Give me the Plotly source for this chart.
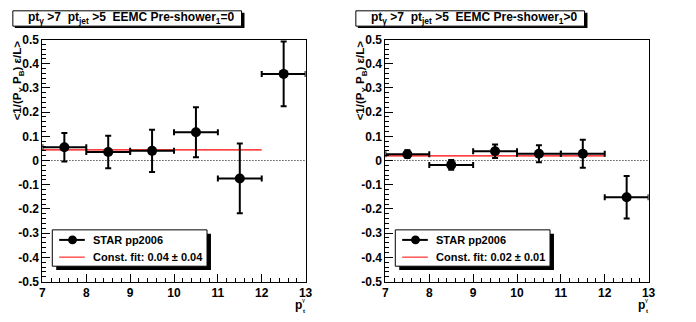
import plotly.graph_objects as go

# ---------------- data ----------------
bin_centers = [7.5, 8.5, 9.5, 10.5, 11.5, 12.5]
bin_halfwidth = [0.5, 0.5, 0.5, 0.5, 0.5, 0.5]

left_values = [0.055, 0.035, 0.040, 0.117, -0.074, 0.358]
left_errors = [0.059, 0.067, 0.087, 0.103, 0.144, 0.134]
left_fit_x = [7, 12]
left_fit_value = 0.044

right_values = [0.026, -0.018, 0.038, 0.028, 0.028, -0.152]
right_errors = [0.016, 0.020, 0.028, 0.035, 0.058, 0.088]
right_fit_x = [7, 12]
right_fit_value = 0.019

titles = ["pt<sub>γ</sub> >7  pt<sub>jet</sub> >5  EEMC Pre-shower<sub>1</sub>=0",
          "pt<sub>γ</sub> >7  pt<sub>jet</sub> >5  EEMC Pre-shower<sub>1</sub>>0"]
legend_data = "STAR pp2006"
legend_fit = ["Const. fit: 0.04 ± 0.04", "Const. fit: 0.02 ± 0.01"]

x_ticks = [7, 8, 9, 10, 11, 12, 13]
x_tick_labels = ["7", "8", "9", "10", "11", "12", "13"]
y_ticks = [-0.5, -0.4, -0.3, -0.2, -0.1, 0, 0.1, 0.2, 0.3, 0.4, 0.5]
y_tick_labels = ["-0.5", "-0.4", "-0.3", "-0.2", "-0.1", "0", "0.1", "0.2", "0.3", "0.4", "0.5"]
y_title = "<1/(P<sub>Y</sub> P<sub>B</sub>) ε/L>"

# ---------------- layout helpers ----------------
W, H = 696, 322
def px(x):
    return x / W
def py(y):
    return 1 - y / H

FONT = "Liberation Sans, Arial, sans-serif"
panel_left = [40, 388]
panel_w = 267
top_px, bot_px = 34, 287

fig = go.Figure()

panels = [
    (left_values, left_errors, left_fit_x, left_fit_value, "x", "y"),
    (right_values, right_errors, right_fit_x, right_fit_value, "x2", "y2"),
]

for vals, errs, fx, fval, xa, ya in panels:
    fig.add_trace(go.Scatter(
        x=fx, y=[fval, fval], mode="lines", xaxis=xa, yaxis=ya,
        line=dict(color="red", width=1.3), showlegend=False, hoverinfo="skip"))
    fig.add_trace(go.Scatter(
        x=bin_centers, y=vals, mode="markers", xaxis=xa, yaxis=ya,
        marker=dict(symbol="circle", size=10, color="black"),
        error_y=dict(type="data", array=errs, visible=True, color="black", thickness=2, width=3),
        error_x=dict(type="data", array=bin_halfwidth, visible=True, color="black", thickness=2, width=3),
        showlegend=False, hoverinfo="skip"))

axis_common = dict(
    showgrid=False, zeroline=False, showline=True, linecolor="black", linewidth=1,
    mirror=True, ticks="inside", tickcolor="black", ticklen=8, tickwidth=1,
    tickfont=dict(family=FONT, size=12, color="black", weight="bold"),
)

layout = dict(width=W, height=H, margin=dict(l=0, r=0, t=0, b=0),
              paper_bgcolor="white", plot_bgcolor="white", showlegend=False)

for i, (xa, ya) in enumerate([("xaxis", "yaxis"), ("xaxis2", "yaxis2")]):
    x0 = panel_left[i]
    xd = [px(x0), px(x0 + panel_w)]
    yd = [py(bot_px), py(top_px)]
    anchor_y = "y" if i == 0 else "y2"
    anchor_x = "x" if i == 0 else "x2"
    layout[xa] = dict(axis_common, domain=xd, range=[7, 13], anchor=anchor_y,
                      tickmode="array", tickvals=x_ticks, ticktext=x_tick_labels,
                      minor=dict(ticks="inside", ticklen=4, tickcolor="black", dtick=0.2, showgrid=False))
    layout[ya] = dict(axis_common, domain=yd, range=[-0.5, 0.5], anchor=anchor_x,
                      tickmode="array", tickvals=y_ticks, ticktext=y_tick_labels,
                      minor=dict(ticks="inside", ticklen=4, tickcolor="black", dtick=0.02, showgrid=False))

fig.update_layout(**layout)

shapes = []
annotations = []
for i in range(2):
    off = 348 * i
    xref = "x" if i == 0 else "x2"
    yref = "y" if i == 0 else "y2"
    # dotted zero line
    shapes.append(dict(type="line", xref=xref, yref=yref, x0=7, x1=13, y0=0, y1=0,
                       line=dict(color="black", width=1, dash="1px,2px"), layer="below"))
    # title box with shadow
    shapes.append(dict(type="rect", xref="paper", yref="paper",
                       x0=px(off + 12), x1=px(off + 245), y0=py(22), y1=py(6),
                       fillcolor="black", line=dict(width=0)))
    shapes.append(dict(type="rect", xref="paper", yref="paper",
                       x0=px(off + 10), x1=px(off + 242), y0=py(20), y1=py(4),
                       fillcolor="white", line=dict(color="black", width=1)))
    annotations.append(dict(xref="paper", yref="paper", x=px(off + 23), y=py(12),
                            xanchor="left", yanchor="middle", showarrow=False,
                            text=titles[i],
                            font=dict(family=FONT, size=12, color="black", weight="bold")))
    # legend box with shadow
    shapes.append(dict(type="rect", xref="paper", yref="paper",
                       x0=px(off + 54), x1=px(off + 211), y0=py(275), y1=py(237),
                       fillcolor="black", line=dict(width=0)))
    shapes.append(dict(type="rect", xref="paper", yref="paper",
                       x0=px(off + 50), x1=px(off + 207), y0=py(271), y1=py(233),
                       fillcolor="white", line=dict(color="black", width=1)))
    # legend entry 1: marker + line
    shapes.append(dict(type="line", xref="paper", yref="paper",
                       x0=px(off + 57), x1=px(off + 83), y0=py(243.5), y1=py(243.5),
                       line=dict(color="black", width=2)))
    shapes.append(dict(type="circle", xref="paper", yref="paper",
                       x0=px(off + 66), x1=px(off + 75), y0=py(248), y1=py(239),
                       fillcolor="black", line=dict(color="black", width=0)))
    annotations.append(dict(xref="paper", yref="paper", x=px(off + 89), y=py(243.5),
                            xanchor="left", yanchor="middle", showarrow=False,
                            text=legend_data,
                            font=dict(family=FONT, size=11, color="black", weight="bold")))
    # legend entry 2: fit line
    shapes.append(dict(type="line", xref="paper", yref="paper",
                       x0=px(off + 57), x1=px(off + 83), y0=py(261.5), y1=py(261.5),
                       line=dict(color="red", width=1)))
    annotations.append(dict(xref="paper", yref="paper", x=px(off + 89), y=py(261.5),
                            xanchor="left", yanchor="middle", showarrow=False,
                            text=legend_fit[i],
                            font=dict(family=FONT, size=11, color="black", weight="bold")))
    # y axis title
    annotations.append(dict(xref="paper", yref="paper", x=px(off + 15), y=py(33),
                            xanchor="center", yanchor="top", showarrow=False, textangle=-90,
                            text=y_title,
                            font=dict(family=FONT, size=11.5, color="black", weight="bold")))
    # x axis title p_t^gamma
    annotations.append(dict(xref="paper", yref="paper", x=px(off + 299.5), y=py(312),
                            xanchor="center", yanchor="middle", showarrow=False, borderpad=0,
                            text="p", font=dict(family=FONT, size=12, color="black", weight="bold")))
    annotations.append(dict(xref="paper", yref="paper", x=px(off + 305), y=py(306.5),
                            xanchor="center", yanchor="middle", showarrow=False, borderpad=0,
                            text="γ", font=dict(family=FONT, size=6, color="black")))
    annotations.append(dict(xref="paper", yref="paper", x=px(off + 305), y=py(318),
                            xanchor="center", yanchor="middle", showarrow=False, borderpad=0,
                            text="t", font=dict(family=FONT, size=6, color="black", weight="bold")))

fig.update_layout(shapes=shapes, annotations=annotations)
fig.write_html("out.html")
